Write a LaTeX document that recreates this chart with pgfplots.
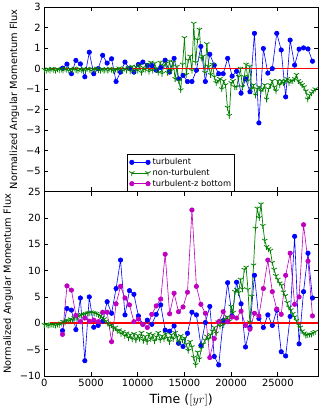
\documentclass[border=0pt]{standalone}
\usepackage{pgfplots}
\pgfplotsset{compat=1.18}
\usepackage{pgfplotstable}
\usepackage{fontspec}
\setmainfont{DejaVu Sans}
\definecolor{mblue}{RGB}{0,0,255}
\definecolor{mgreen}{RGB}{0,128,0}
\definecolor{mmag}{RGB}{191,0,191}
\definecolor{mred}{RGB}{255,0,0}

\pgfplotstableread{
t top turb zbot
1940 0.02 -1.4 -2.1
2418 0.22 2.8 7.1
2896 -0.25 2.5 6.3
3374 0.40 -1.2 1.5
3852 0.23 4.8 0.3
4330 -0.40 -7.1 1.0
4808 0.80 5.0 0.4
5286 -0.25 -0.75 0.6
5764 0.0 -0.4 0.3
6242 0.65 0.4 2.1
6720 0.27 4.1 2.1
7198 0.48 1.9 -3.5
7676 -0.63 6.6 3.7
8154 -0.17 12.0 7.0
8632 0.32 1.6 4.8
9110 0.0 6.2 3.5
9588 -0.17 5.5 0.3
10066 0.2 1.4 0.8
10544 0.32 -0.2 -0.2
11022 0.15 0.6 -0.8
11500 0.15 -0.2 1.7
11978 -0.08 1.7 3.3
12456 0.05 3.5 4.6
12934 0.41 -1.3 13.1
13412 -0.17 -1.5 1.8
13890 0.5 -0.5 5.7
14368 -0.5 -3.8 2.2
14846 -0.33 -4.4 3.1
15324 -0.63 -1.9 5.9
15802 -0.63 2.1 21.5
16280 -0.08 1.6 7.0
16758 1.08 -4.2 3.6
17236 -0.63 0.15 1.9
17714 0.7 3.2 -6.5
18192 0.17 -6.3 -2.9
18670 -0.25 -7.9 0.3
19148 -0.25 0.5 2.2
19626 0.5 7.7 0.3
20104 -0.37 1.4 1.2
20582 -0.13 7.8 1.0
21060 -1.2 3.7 2.3
21538 -0.5 -4.5 -0.4
22016 -1.13 -0.8 -1.1
22494 1.72 9.1 1.9
22972 -2.65 0.9 1.4
23450 0.98 -0.8 6.6
23928 -0.22 1.6 12.0
24406 0.0 -0.4 6.0
24884 1.72 2.5 2.7
25362 0.91 -5.4 1.7
25840 -1.38 -6.2 9.1
26318 1.39 1.3 13.3
26796 0.17 16.5 3.6
27274 0.95 -3.9 5.0
27752 1.01 6.0 18.7
28230 0.96 13.3 11.8
28708 0.36 4.8 1.4
}\turbtab

\pgfplotstableread{
t gtop gbot
0 -0.05 -0.3
200 -0.1 -0.2
400 -0.03 -0.4
600 -0.08 -0.3
800 0.0 -0.2
1000 -0.06 -0.3
1200 -0.1 -0.4
1400 -0.02 -0.2
1600 -0.07 -0.3
1800 -0.04 0.0
2000 -0.09 0.3
2200 0.0 0.2
2400 -0.05 0.6
2600 -0.1 0.4
2800 -0.03 0.8
3000 -0.07 0.6
3200 0.01 1.0
3400 -0.06 1.1
3600 -0.1 1.3
3800 -0.02 1.5
4000 -0.08 1.6
4200 -0.04 1.7
4400 -0.09 1.8
4600 0.0 1.9
4800 -0.05 2.0
5000 -0.1 2.1
5200 -0.03 2.0
5400 -0.07 1.9
5600 0.01 1.8
5800 -0.06 1.6
6000 -0.1 1.4
6200 -0.02 1.1
6400 -0.08 0.8
6600 -0.04 0.4
6800 -0.09 0.0
7000 0.0 -0.5
7200 -0.05 -0.3
7400 -0.1 -1.0
7600 -0.03 -0.8
7800 -0.07 -1.5
8000 0.02 -1.3
8200 -0.06 -2.0
8400 -0.1 -1.6
8600 0.0 -2.4
8800 -0.08 -1.9
9000 0.05 -2.8
9200 -0.12 -2.2
9400 0.1 -3.0
9600 -0.15 -2.0
9800 0.08 -3.2
10000 -0.1 -2.3
10200 0.15 -2.9
10400 -0.2 -1.8
10600 0.05 -3.3
10800 -0.05 -2.5
11000 0.2 -3.5
11200 -0.15 -2.0
11400 0.3 -3.0
11600 -0.1 -2.2
11800 0.25 -3.4
12000 0.0 -2.6
12200 -0.2 -1.8
12400 0.3 -3.2
12600 -0.25 -2.4
12800 0.15 -3.0
13000 0.25 -2.0
13200 -0.2 -2.8
13400 0.35 -3.5
13600 -0.1 -2.2
13800 0.3 -3.0
14000 -0.5 -1.8
14200 0.1 -2.6
14400 -0.6 -3.6
14600 -1.05 -2.4
14800 0.2 -3.2
15000 1.5 -2.8
15200 -0.3 -4.0
15400 0.4 -5.2
15600 0.6 -3.5
15800 -0.1 -4.5
16000 2.2 -6.5
16200 0.3 -7.9
16400 1.4 -5.5
16600 1.9 -6.8
16800 0.5 -4.8
17000 0.6 -4.0
17200 -0.2 -3.2
17400 1.2 -2.5
17600 0.1 -3.0
17800 -0.3 -2.2
18000 0.2 -1.5
18200 -0.4 -0.8
18400 -0.7 -1.9
18600 -0.6 0.2
18800 -0.5 -0.6
19000 -1.0 0.5
19200 -0.6 -0.3
19400 -0.8 0.8
19600 -1.9 1.2
19800 -2.3 0.4
20000 -0.7 3.2
20200 -0.6 2.0
20400 -0.9 6.0
20600 -0.9 6.4
20800 -0.4 5.8
21000 0.0 8.3
21200 -0.9 6.5
21400 -0.4 10.2
21600 0.2 10.6
21800 -0.6 6.4
22000 0.1 0.2
22200 -1.0 5.1
22400 -0.8 11.0
22600 -1.3 18.0
22800 -1.0 21.8
23000 -0.9 20.0
23200 -1.1 22.6
23400 -1.0 18.5
23600 -0.8 15.7
23800 -1.5 14.5
24000 -1.0 14.1
24200 -0.8 13.8
24400 -0.6 11.5
24600 -0.9 10.2
24800 -1.1 9.0
25000 -0.6 8.3
25200 -0.8 7.6
25400 -0.6 7.2
25600 -0.7 5.9
25800 -0.6 5.2
26000 -0.5 3.9
26200 -0.7 3.0
26400 -0.6 2.5
26600 -0.6 1.8
26800 -0.5 1.2
27000 -0.3 0.5
27200 -0.6 -0.3
27400 -0.7 -0.8
27600 -0.8 -1.5
27800 -0.9 -1.9
28000 -1.1 -2.3
28200 -1.5 -2.2
28400 -1.3 -2.1
28600 -1.2 -2.1
28800 -1.1 -1.8
29000 -1.0 -1.6
}\greentab

\pgfplotsset{
  common/.style={
    width=270pt, height=182pt, scale only axis,
    xmin=0, xmax=29300,
    scaled x ticks=false, scaled y ticks=false,
    xtick={0,5000,10000,15000,20000,25000},
    tick align=inside, major tick length=4pt,
    axis line style={line width=0.9pt},
    every tick/.style={black, line width=0.7pt},
    tick label style={font=\fontsize{9.8}{10}\selectfont},
    ylabel style={font=\fontsize{9.7}{10}\selectfont},
    xlabel style={font=\fontsize{12.4}{13}\selectfont},
    clip=true,
    legend image code/.code={\draw[mark repeat=1,#1] plot coordinates {(0pt,0pt) (16pt,0pt)};},
  },
  bl/.style={color=mblue, line width=0.6pt, mark=*, mark size=2.2pt, mark options={fill=mblue, draw=mblue}},
  gr/.style={color=mgreen, line width=0.7pt, mark=Mercedes star flipped, mark size=3pt, mark options={draw=mgreen, line width=0.8pt}},
  mg/.style={color=mmag, line width=0.6pt, mark=*, mark size=2.2pt, mark options={fill=mmag, draw=mmag}},
}

\begin{document}
\begin{tikzpicture}
\begin{axis}[common, at={(0,182pt)},
  ymin=-6, ymax=3,
  ytick={-5,-4,-3,-2,-1,0,1,2,3},
  yticklabels={−5,−4,−3,−2,−1,0,1,2,3},
  xticklabels={},
  ylabel={Normalized Angular Momentum Flux},
  legend style={at={(0.5,0)}, anchor=south, font=\fontsize{8.2}{9}\selectfont, draw=black, line width=0.8pt, inner sep=1.5pt, row sep=-1.2pt, /tikz/every even column/.append style={column sep=3pt}},
  legend cell align=left,
]
\addplot[bl] table[x=t, y=top] {\turbtab};
\addlegendentry{turbulent}
\addplot[gr] table[x=t, y=gtop] {\greentab};
\addlegendentry{non-turbulent}
\addlegendimage{mg}
\addlegendentry{turbulent-z bottom}
\addplot[mred, line width=1.6pt, forget plot] coordinates {(600,0) (29300,0)};
\end{axis}
\begin{axis}[common, at={(0,0)},
  ymin=-10, ymax=25,
  ytick={-10,-5,0,5,10,15,20,25},
  yticklabels={−10,−5,0,5,10,15,20,25},
  xticklabels={0,5000,10000,15000,20000,25000},
  ylabel={Normalized Angular Momentum Flux},
  xlabel={Time ($[yr]$)},
]
\addplot[bl] table[x=t, y=turb] {\turbtab};
\addplot[gr] table[x=t, y=gbot] {\greentab};
\addplot[mg] table[x=t, y=zbot] {\turbtab};
\addplot[mred, line width=1.6pt, forget plot] coordinates {(600,0) (29300,0)};
\end{axis}
\end{tikzpicture}
\end{document}
